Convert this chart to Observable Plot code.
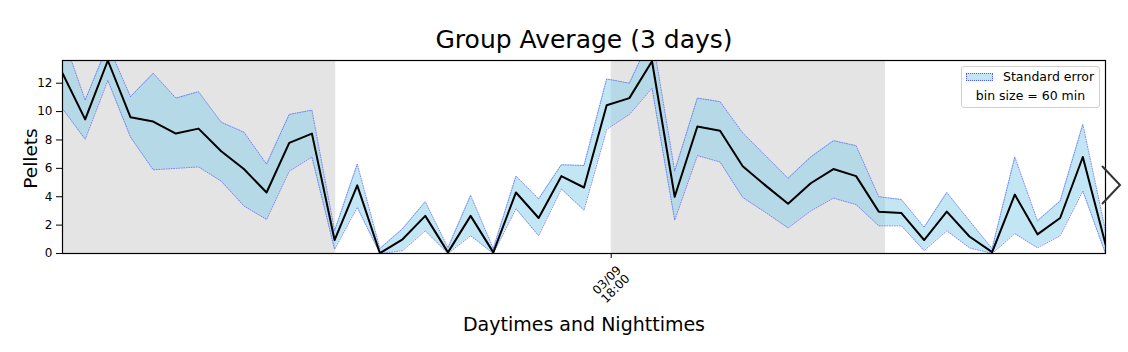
<!DOCTYPE html>
<html>
<head>
<meta charset="utf-8">
<script src="https://cdn.jsdelivr.net/npm/d3@7"></script>
<script src="https://cdn.jsdelivr.net/npm/@observablehq/plot@0.6"></script>
<style>
  html, body { margin: 0; padding: 0; background: #fff; }
  #wrap { position: relative; width: 1128px; height: 352px; font-family: "DejaVu Sans", sans-serif; }
  #legend { position: absolute; left: 961px; top: 66px; width: 137px; height: 40px; border: 1px solid #d0d0d0; border-radius: 3px; background: rgba(255,255,255,0.85); font-size: 12.5px; line-height: 12.5px; color: #000; }
  #legend .patch { position: absolute; left: 4px; top: 6px; width: 27px; height: 8px; background: rgba(135,206,235,0.5); border: 1px dotted #4f5ff0; box-sizing: border-box; }
  #legend .t1 { position: absolute; left: 41px; top: 4px; white-space: nowrap; }
  #legend .t2 { position: absolute; left: 0; width: 137px; text-align: center; top: 23px; white-space: nowrap; }
  #arrow { position: absolute; left: 1098px; top: 162px; }
</style>
</head>
<body>
<div id="wrap">
  <div id="chart"></div>
  <div id="legend"><div class="patch"></div><div class="t1">Standard error</div><div class="t2">bin size = 60 min</div></div>
  <svg id="arrow" width="28" height="46"><polyline points="4,4 22,23 4,42" fill="none" stroke="#333" stroke-width="2"/></svg>
</div>
<script>
// Data (hourly bins, index 0..46)
const meanVals = [12.7, 9.45, 13.6, 9.6, 9.3, 8.45, 8.8, 7.2, 5.95, 4.3, 7.8, 8.45, 0.95, 4.8, 0.02, 1.0, 2.65, 0.08, 2.65, 0.08, 4.3, 2.5, 5.45, 4.65, 10.45, 10.95, 13.55, 4.0, 8.95, 8.65, 6.15, 4.8, 3.5, 4.95, 5.95, 5.45, 2.95, 2.85, 0.95, 2.95, 1.2, 0.1, 4.15, 1.35, 2.5, 6.8, 0.65];
const upperVals = [15.4, 10.8, 14.7, 11.05, 12.7, 10.95, 11.4, 9.25, 8.55, 6.3, 9.8, 10.1, 1.6, 6.3, 0.35, 1.75, 3.65, 0.4, 4.1, 0.35, 5.45, 3.85, 6.25, 6.2, 12.3, 12.0, 15.4, 5.8, 10.95, 10.7, 8.5, 6.9, 5.3, 6.8, 7.95, 7.6, 4.0, 3.8, 1.85, 4.3, 2.3, 0.35, 6.8, 2.3, 3.7, 9.1, 1.6];
const lowerVals = [10.2, 8.05, 12.2, 8.2, 5.9, 6.0, 6.1, 5.1, 3.35, 2.4, 5.8, 6.8, 0.3, 3.25, 0, 0.2, 1.6, 0, 1.25, 0, 3.15, 1.25, 4.55, 3.05, 8.75, 9.8, 11.65, 2.35, 6.9, 6.45, 3.95, 2.9, 1.8, 3.0, 3.9, 3.45, 1.95, 1.95, 0.2, 1.6, 0.4, 0, 1.4, 0.4, 1.25, 4.4, 0];
const nightStarts = [0, 24.2];
const nightEnds = [12.05, 36.3];
const xTickPositions = [24.2];
const xTickLabels = ["03/09\n18:00"];
const yTicks = [0, 2, 4, 6, 8, 10, 12];
const titleText = "Group Average (3 days)";
const yLabel = "Pellets";
const xLabel = "Daytimes and Nighttimes";

const rows = meanVals.map((m, i) => ({i, mean: m, upper: upperVals[i], lower: lowerVals[i]}));
const nights = nightStarts.map((s, k) => ({x1: s, x2: nightEnds[k]}));
const xTicks = xTickPositions.map((p, k) => ({x: p, label: xTickLabels[k]}));

const chart = Plot.plot({
  width: 1128,
  height: 352,
  marginTop: 60,
  marginBottom: 99,
  marginLeft: 62,
  marginRight: 23,
  style: {fontFamily: "DejaVu Sans, sans-serif", background: "transparent"},
  x: {domain: [0, meanVals.length - 1], axis: null},
  y: {domain: [0, 13.6], axis: null},
  marks: [
    Plot.rect(nights, {x1: "x1", x2: "x2", fill: "#e4e4e4"}),
    Plot.areaY(rows, {x: "i", y1: "lower", y2: "upper", fill: "skyblue", fillOpacity: 0.5, clip: true}),
    Plot.line(rows, {x: "i", y: "upper", stroke: "#4f5ff0", strokeWidth: 0.9, strokeDasharray: "1,1.5", strokeOpacity: 0.8, clip: true}),
    Plot.line(rows, {x: "i", y: "lower", stroke: "#4f5ff0", strokeWidth: 0.9, strokeDasharray: "1,1.5", strokeOpacity: 0.8, clip: true}),
    Plot.line(rows, {x: "i", y: "mean", stroke: "black", strokeWidth: 2, clip: true}),
    Plot.frame({stroke: "black", strokeWidth: 1.2}),
    Plot.axisY(yTicks, {tickSize: 6, tickPadding: 4, fontSize: 12, label: null, stroke: "black"}),
    Plot.axisX(xTickPositions, {tickSize: 5, tickFormat: () => "", label: null}),
    Plot.text(xTicks, {x: "x", text: "label", frameAnchor: "bottom", dy: 31, rotate: -45, fontSize: 12, lineAnchor: "middle", textAnchor: "middle"}),
    Plot.text([titleText], {text: d => d, frameAnchor: "top", dy: -20.5, fontSize: 25, lineAnchor: "middle", textAnchor: "middle"}),
    Plot.text([yLabel], {text: d => d, frameAnchor: "left", dx: -31, dy: 1.5, rotate: -90, fontSize: 18.5, lineAnchor: "middle", textAnchor: "middle"}),
    Plot.text([xLabel], {text: d => d, frameAnchor: "bottom", dy: 71, fontSize: 19, lineAnchor: "middle", textAnchor: "middle"})
  ]
});
document.getElementById("chart").appendChild(chart);
</script>
</body>
</html>
